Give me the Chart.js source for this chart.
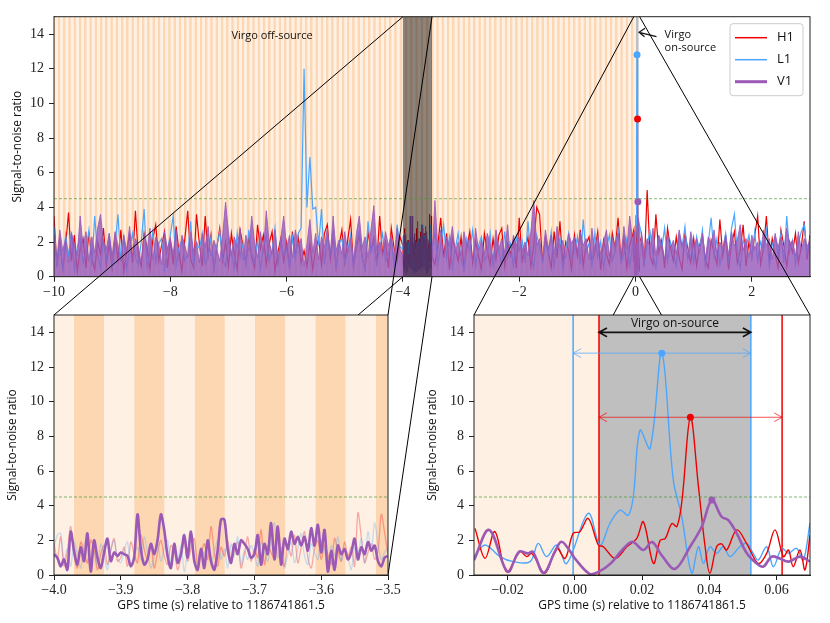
<!DOCTYPE html>
<html>
<head>
<meta charset="utf-8">
<title>Virgo on-source / off-source SNR</title>
<script src="https://cdn.jsdelivr.net/npm/chart.js@4.4.0/dist/chart.umd.min.js"></script>
<style>
  html, body { margin: 0; padding: 0; background: #fff; }
  #figure { position: relative; width: 830px; height: 623px; }
  #figure canvas { position: absolute; left: 0; top: 0; width: 830px; height: 623px; }
</style>
</head>
<body>
<div id="figure">
  <canvas id="topChart" width="830" height="623"></canvas>
  <canvas id="leftChart" width="830" height="623"></canvas>
  <canvas id="rightChart" width="830" height="623"></canvas>
  <canvas id="connectors" width="830" height="623"></canvas>
</div>
<script>
// ---- data ----
const detectors = ['H1', 'L1', 'V1'];
const detColors = ['#ee0000', '#4ba6ff', '#9b59b6'];

// full 13 s trace, one sample every 0.05 s starting at -10 s
const topStart = -10;
const topStep = 0.05;
const h1Coarse = [
  3.5, 0.6, 2.1, 0.4, 1.8, 3.7, 0.9, 2.4, 0.3, 1.6, 2.2, 0.5, 2.6, 1.1, 0.4, 2.0, 1.3, 2.8, 0.7, 1.9,
  0.5, 2.3, 1.0, 2.7, 0.3, 1.5, 2.4, 0.8, 3.8, 1.2, 0.6, 2.5, 1.7, 0.4, 2.2, 3.0, 0.9, 1.8, 2.6, 0.5,
  2.1, 0.7, 2.9, 1.4, 0.3, 2.2, 3.8, 1.0, 0.5, 3.6, 1.9, 0.6, 3.5, 1.2, 2.4, 0.4, 1.7, 2.8, 0.9, 2.0,
  0.6, 2.5, 1.3, 0.4, 2.7, 1.8, 0.8, 2.3, 1.1, 0.5, 3.0, 1.6, 2.4, 0.7, 1.9, 2.6, 0.3, 1.4, 2.2, 0.9,
  2.0, 0.5, 2.6, 1.2, 2.3, 0.8, 1.5, 0.6, 1.9, 0.4, 1.6, 2.2, 0.7, 2.5, 3.0, 1.0, 2.4, 0.5, 1.8, 2.7,
  0.8, 2.1, 3.3, 0.6, 1.7, 2.4, 1.1, 0.4, 2.6, 1.5, 2.2, 0.7, 3.5, 1.3, 2.0, 0.5, 2.8, 1.6, 0.9, 2.3,
  1.9, 0.6, 2.4, 1.2, 0.5, 2.1, 1.4, 0.8, 2.6, 1.0, 3.4, 0.7, 1.8, 3.4, 1.1, 2.5, 0.4, 2.2, 1.6, 0.9,
  2.3, 0.5, 1.7, 2.6, 0.8, 2.0, 1.2, 0.4, 2.5, 1.5, 0.7, 2.2, 1.0, 2.4, 2.8, 0.6, 1.9, 1.3, 2.1, 0.5,
  3.4, 0.9, 1.6, 2.3, 0.6, 1.8, 4.0, 3.6, 0.8, 2.2, 1.4, 0.5, 2.6, 1.1, 3.2, 0.7, 2.0, 1.5, 0.4, 2.4,
  1.2, 2.7, 0.6, 1.9, 2.3, 0.8, 1.5, 2.6, 0.4, 2.1, 1.3, 0.7, 2.5, 1.6, 3.4, 0.9, 2.2, 0.5, 1.8, 2.4,
  1.0, 1.5, 2.0, 0.6, 5.0, 1.2, 0.7, 3.6, 1.4, 2.1, 0.5, 2.8, 1.7, 0.9, 2.3, 1.1, 0.4, 2.5, 1.6, 0.8,
  2.2, 0.6, 1.8, 2.4, 1.0, 0.5, 2.1, 1.4, 0.7, 3.3, 1.2, 2.3, 0.4, 1.9, 2.6, 0.8, 1.5, 3.0, 0.6, 2.0,
  1.1, 2.4, 3.5, 0.7, 1.6, 3.5, 0.9, 2.2, 1.3, 0.5, 2.7, 1.8, 0.6, 2.0, 1.4, 2.5, 0.8, 1.7, 3.2, 1.0,
  2.4
];
const l1Coarse = [
  2.9, 0.7, 1.9, 0.5, 2.4, 1.2, 2.6, 0.4, 1.7, 2.2, 0.8, 1.5, 2.7, 0.6, 3.5, 1.3, 0.5, 2.1, 1.0, 2.5,
  0.6, 1.8, 3.6, 0.9, 2.3, 0.4, 1.6, 2.5, 1.1, 0.7, 2.0, 3.9, 0.5, 1.4, 2.6, 0.8, 1.9, 2.2, 0.4, 1.5,
  2.4, 3.5, 0.6, 1.7, 2.1, 0.9, 1.3, 3.2, 0.5, 2.0, 1.6, 2.5, 0.7, 1.2, 2.3, 0.4, 1.8, 2.6, 1.0, 0.6,
  2.2, 1.4, 0.5, 2.5, 1.1, 1.9, 0.6, 2.7, 1.3, 0.8, 2.1, 0.4, 1.7, 2.4, 0.9, 1.5, 2.8, 0.6, 2.0, 1.2,
  1.6, 0.5, 2.3, 1.0, 2.5, 2.8, 12.0, 4.0, 6.9, 3.9, 4.0, 1.8, 3.9, 0.7, 2.4, 1.3, 2.6, 0.5, 1.9, 2.2,
  0.8, 1.5, 2.4, 0.6, 1.9, 2.6, 1.1, 0.4, 3.2, 1.4, 2.0, 0.7, 1.6, 2.5, 0.9, 1.3, 2.2, 0.5, 3.0, 1.7,
  0.9, 2.1, 1.3, 0.6, 2.4, 1.7, 0.5, 1.9, 2.2, 0.8, 1.4, 2.6, 0.7, 1.8, 3.0, 1.1, 2.3, 0.5, 1.6, 2.5,
  1.0, 0.4, 2.2, 1.5, 2.7, 0.6, 1.8, 2.3, 0.9, 1.2, 2.5, 0.5, 2.0, 1.4, 0.7, 2.6, 1.1, 1.9, 0.6, 2.3,
  1.5, 2.1, 0.8, 3.2, 1.2, 0.5, 2.4, 1.7, 0.9, 2.0, 1.3, 2.6, 0.6, 1.8, 2.2, 0.4, 1.6, 2.5, 1.0, 1.4,
  2.3, 0.7, 3.3, 1.4, 1.9, 0.6, 2.5, 1.1, 2.0, 0.5, 1.7, 2.4, 0.9, 1.5, 2.7, 0.8, 1.3, 2.2, 0.6, 1.8,
  1.2, 1.8, 2.5, 0.7, 1.9, 2.6, 1.3, 0.5, 2.2, 1.6, 2.8, 0.9, 2.0, 1.4, 0.6, 2.4, 1.7, 2.9, 1.0, 2.1,
  0.8, 2.3, 1.5, 2.7, 0.6, 1.9, 3.4, 1.2, 2.2, 0.7, 1.6, 2.5, 1.0, 2.8, 3.6, 1.4, 0.5, 2.1, 1.7, 2.4,
  1.1, 2.6, 0.9, 2.0, 1.5, 2.7, 0.6, 1.8, 2.3, 1.2, 2.5, 0.8, 3.5, 1.4, 2.1, 0.7, 1.9, 2.6, 3.0, 1.3,
  2.2
];
const v1Coarse = [
  2.4, 1.0, 2.7, 1.5, 2.2, 0.8, 2.5, 1.9, 1.2, 3.5, 1.7, 2.6, 0.9, 2.3, 1.4, 2.8, 3.6, 2.0, 1.6, 2.5,
  1.2, 2.6, 1.8, 0.9, 2.4, 1.5, 2.9, 1.1, 2.2, 1.7, 0.8, 2.5, 1.4, 2.8, 1.0, 2.3, 1.9, 0.7, 2.6, 1.6,
  2.2, 1.3, 2.7, 0.9, 2.4, 1.8, 1.1, 2.6, 1.5, 2.0, 0.8, 2.5, 1.7, 2.9, 1.2, 2.1, 1.6, 0.9, 2.4, 4.3,
  2.6, 1.2, 2.3, 1.7, 2.8, 1.0, 2.4, 1.5, 3.5, 1.9, 1.1, 2.6, 1.4, 3.8, 2.0, 1.3, 2.7, 0.9, 2.2, 3.5,
  1.6, 2.4, 1.1, 2.7, 1.8, 2.2, 0.6, 1.9, 3.3, 1.4, 2.5, 1.0, 2.3, 1.7, 2.8, 1.2, 3.5, 1.5, 2.1, 1.3,
  2.6, 1.4, 2.2, 0.9, 2.5, 3.5, 1.7, 2.3, 1.1, 2.7, 4.1, 1.5, 2.0, 1.3, 2.6, 1.8, 2.4, 1.0, 2.8, 1.6,
  2.1, 1.3, 2.5, 1.0, 2.2, 1.7, 2.6, 1.2, 2.0, 1.5, 2.4, 4.4, 1.6, 2.7, 1.1, 2.3, 1.8, 2.9, 1.4, 2.0,
  1.2, 2.6, 1.7, 2.3, 0.9, 2.8, 1.5, 2.1, 1.3, 2.5, 1.9, 1.0, 2.7, 1.6, 2.2, 1.4, 3.0, 1.1, 2.4, 1.8,
  2.3, 1.5, 2.0, 1.2, 2.6, 4.4, 1.8, 2.2, 1.0, 2.7, 1.6, 2.4, 1.3, 2.9, 1.7, 2.1, 1.1, 2.5, 1.9, 2.3,
  1.4, 2.6, 1.8, 2.2, 1.0, 2.8, 1.5, 2.4, 1.3, 2.0, 2.7, 1.2, 2.3, 1.7, 2.5, 1.1, 2.9, 1.6, 3.5, 2.0,
  1.5, 2.3, 2.6, 1.4, 2.2, 1.7, 2.8, 1.2, 2.4, 1.9, 1.0, 2.5, 1.6, 2.1, 1.3, 2.7, 1.8, 2.3, 1.1, 2.6,
  1.7, 2.2, 1.4, 2.5, 1.0, 2.3, 1.9, 2.7, 1.3, 2.0, 1.6, 2.4, 1.2, 2.6, 1.8, 2.1, 3.0, 1.5, 2.2, 1.1,
  2.4, 1.6, 2.0, 1.3, 2.7, 1.8, 2.2, 1.0, 2.5, 1.7, 2.3, 1.4, 2.8, 1.9, 2.1, 1.2, 2.6, 1.5, 2.2, 1.8,
  2.0
];

// off-source zoom (-4.0 .. -3.5 s), one sample every 0.005 s
const leftStart = -4.0;
const leftStep = 0.005;
const h1Left = [
  1.8, 0.9, 2.2, 0.5, 1.4, 2.8, 1.1, 0.4, 1.9, 1.3, 0.7, 2.0, 1.5, 0.3, 1.2, 1.7, 0.6, 1.4, 2.1, 0.8,
  1.0, 1.6, 0.5, 1.9, 1.2, 0.7, 2.3, 1.5, 0.9, 1.8, 0.4, 1.3, 2.0, 1.1, 0.6, 1.7, 1.4, 0.3, 1.0, 1.9,
  0.8, 1.5, 2.1, 0.6, 1.2, 1.8, 0.9, 2.8, 1.3, 0.5, 1.6, 1.1, 2.0, 0.7, 1.4, 1.9, 0.4, 1.2, 2.2, 0.8,
  1.5, 1.0, 2.6, 0.6, 1.7, 1.3, 0.9, 2.1, 1.4, 0.5, 1.8, 1.1, 2.3, 0.7, 1.6, 2.5, 1.0, 0.4, 1.5, 2.0,
  0.9, 1.7, 1.2, 0.6, 2.1, 1.4, 0.8, 1.9, 1.1, 1.6, 0.5, 3.6, 2.2, 0.7, 1.3, 1.8, 0.9, 1.4, 3.5, 2.4,
  1.2
];
const l1Left = [
  1.6, 2.3, 2.4, 0.8, 1.5, 0.5, 1.9, 1.2, 0.4, 1.7, 2.1, 0.9, 1.3, 0.6, 1.8, 1.1, 0.3, 1.5, 2.0, 1.0,
  0.7, 1.4, 1.9, 0.5, 1.2, 1.6, 0.9, 2.2, 1.3, 0.4, 1.1, 1.8, 0.8, 1.5, 2.0, 0.6, 1.3, 0.9, 1.7, 0.2,
  1.4, 2.1, 1.0, 0.5, 1.6, 1.2, 1.9, 0.7, 1.3, 2.0, 0.9, 1.5, 0.4, 1.8, 1.1, 2.2, 0.6, 1.4, 0.9, 1.7,
  1.2, 0.5, 1.9, 1.3, 0.8, 2.1, 3.0, 1.0, 1.6, 0.4, 1.2, 1.9, 0.7, 1.5, 2.4, 1.1, 0.6, 1.8, 1.3, 0.9,
  2.0, 1.4, 0.5, 1.7, 1.1, 2.2, 0.8, 1.5, 1.0, 0.3, 1.6, 1.2, 2.1, 0.7, 2.5, 1.4, 3.0, 1.8, 0.9, 1.3,
  1.6
];
const v1Left = [
  1.2, 1.0, 0.5, 0.9, 0.3, 2.5, 1.4, 0.6, 1.6, 0.8, 2.4, 0.2, 2.0, 1.0, 0.4, 1.3, 2.1, 0.8, 1.3, 1.1,
  1.3, 1.2, 1.1, 0.5, 1.0, 3.5, 1.5, 0.6, 0.9, 1.8, 1.2, 2.0, 3.5, 2.6, 1.1, 0.4, 1.8, 0.7, 1.2, 2.3,
  1.0, 2.5, 0.8, 0.3, 1.5, 0.4, 2.0, 0.8, 0.3, 1.4, 3.2, 3.2, 1.5, 0.7, 1.8, 1.2, 2.0, 1.8, 1.5, 1.0,
  1.2, 2.3, 0.6, 1.8, 1.2, 3.0, 0.9, 2.8, 0.6, 2.1, 1.5, 2.5, 1.8, 2.2, 1.7, 2.2, 1.4, 2.7, 1.7, 2.9,
  1.3, 2.6, 0.2, 1.4, 0.3, 1.7, 1.2, 1.5, 0.9, 1.3, 2.1, 0.9, 1.6, 1.2, 1.9, 1.4, 1.7, 0.8, 0.5, 1.0,
  1.1
];

// on-source zoom (-0.03 .. 0.07 s)
const h1ZoomT = [-0.0297, -0.0267, -0.0238, -0.0203, -0.0163, -0.0143, -0.0128, -0.0089, -0.0054, -0.0029,
  -0.0005, 0.0015, 0.0040, 0.0070, 0.0085, 0.0120, 0.0155, 0.0184, 0.0204, 0.0234, 0.0254, 0.0269, 0.0289,
  0.0304, 0.0319, 0.0344, 0.0368, 0.0388, 0.0402, 0.0422, 0.0437, 0.0452, 0.0482, 0.0512, 0.0546, 0.0571,
  0.0596, 0.0621, 0.0636, 0.0650, 0.0670, 0.0685, 0.0700];
const h1ZoomSnr = [2.69, 0.96, 2.5, 0.19, 1.34, 1.06, 1.25, 0.1, 1.54, 0.96,
  2.4, 2.5, 3.26, 1.73, 1.63, 0.96, 1.63, 2.1, 3.07, 0.67, 2.0, 2.1, 2.97,
  2.8, 4.3, 9.1, 5.1, 1.6, 0.1, 1.63, 1.8, 1.44, 2.6, 1.8, 0.67, 1.25,
  2.6, 1.06, 1.44, 0.48, 1.44, 0.29, 2.3];
const l1ZoomT = [-0.0300, -0.0267, -0.0223, -0.0183, -0.0133, -0.0109, -0.0084, -0.0054, -0.0024, 0.0040,
  0.0075, 0.0105, 0.0135, 0.0159, 0.0174, 0.0194, 0.0224, 0.0259, 0.0293, 0.0318, 0.0348, 0.0368, 0.0383,
  0.0402, 0.0422, 0.0442, 0.0462, 0.0491, 0.0511, 0.0531, 0.0546, 0.0571, 0.0591, 0.0616, 0.0636, 0.0660,
  0.0680, 0.0700];
const l1ZoomSnr = [1.06, 1.73, 1.06, 0.77, 0.77, 1.82, 1.06, 1.73, 0.67, 3.55,
  1.73, 3.0, 3.74, 3.45, 4.5, 8.35, 7.3, 12.8, 5.5, 3.4, 0.1, 1.63, 0.67,
  1.63, 1.25, 1.63, 1.06, 1.63, 1.82, 1.25, 0.86, 1.63, 0.48, 1.54, 1.25, 1.54,
  0.86, 3.0];
const v1ZoomT = [-0.0300, -0.0255, -0.0200, -0.0166, -0.0140, -0.0125, -0.0093, -0.0060, -0.0040, -0.0015,
  0.0000, 0.0045, 0.0072, 0.0107, 0.0141, 0.0171, 0.0204, 0.0230, 0.0260, 0.0298, 0.0343, 0.0378, 0.0408,
  0.0437, 0.0457, 0.0482, 0.0512, 0.0541, 0.0561, 0.0586, 0.0610, 0.0636, 0.0670, 0.0700];
const v1ZoomSnr = [0.86, 2.6, 0.19, 1.34, 1.25, 1.34, 0.12, 1.3, 1.92, 1.4,
  0.96, 0.05, 0.19, 0.67, 1.44, 1.92, 1.44, 1.9, 1.1, 0.35, 1.63, 2.8, 4.32,
  3.36, 3.17, 2.4, 1.25, 0.67, 0.48, 1.06, 0.95, 0.77, 1.06, 0.77];

// loudest peak per detector (H1, L1, V1)
const peakT = [0.0344, 0.0259, 0.0408];
const peakSnr = [9.1, 12.8, 4.32];

// windows (s)
const leftZoom = [-4.0, -3.5];
const rightZoom = [-0.03, 0.07];
const h1Window = [0.0072, 0.0617];
const l1Window = [-0.0005, 0.0524];
const virgoOnSource = [0.0072, 0.0524];
const threshold = 4.5;

// ticks
const topXTicks = [-10, -8, -6, -4, -2, 0, 2];
const leftXTicks = [-4.0, -3.9, -3.8, -3.7, -3.6, -3.5];
const rightXTicks = [-0.02, 0.0, 0.02, 0.04, 0.06];
const snrTicks = [0, 2, 4, 6, 8, 10, 12, 14];

// ---- styling ----
const serif = { family: 'Liberation Serif', size: 14 };
const sans = "'Open Sans', 'DejaVu Sans', sans-serif";
const axisColor = '#222';
const bandDark = '#fdd6b2';
const bandLight = '#fef0e3';
const onSourceGray = '#bfbfbf';
const xLabel = 'GPS time (s) relative to 1186741861.5';

function fmt(v, digits) {
  const s = Math.abs(v).toFixed(digits);
  return (v < -1e-9 ? '\u2212' : '') + s;
}

function toPoints(ts, vs) {
  return ts.map((t, i) => ({ x: t, y: vs[i] }));
}

function evenPoints(start, step, vs) {
  return vs.map((v, i) => ({ x: start + i * step, y: v }));
}

// top panel shows the coarse trace with the two zoomed stretches spliced in
function mergeTrace(coarse, left, zoomT, zoomSnr) {
  const inside = (t, r) => t >= r[0] - 1e-9 && t <= r[1] + 1e-9;
  const pts = evenPoints(topStart, topStep, coarse)
    .filter(p => !inside(p.x, leftZoom) && !inside(p.x, rightZoom));
  return pts.concat(evenPoints(leftStart, leftStep, left), toPoints(zoomT, zoomSnr))
    .sort((a, b) => a.x - b.x);
}

function yAxis(titlePad) {
  return {
    min: 0,
    max: 15,
    afterBuildTicks: s => { s.ticks = snrTicks.map(v => ({ value: v })); },
    afterFit: s => { s.width = 54; },
    border: { display: true, color: axisColor, width: 1 },
    grid: { drawOnChartArea: false, drawTicks: true, tickLength: 5, color: axisColor },
    ticks: { color: axisColor, font: serif, padding: 5, callback: v => fmt(v, 0) },
    title: {
      display: true, text: 'Signal-to-noise ratio', color: '#111',
      font: { family: sans, size: 12 }, padding: { top: titlePad, bottom: 0 }
    }
  };
}

function xAxis(min, max, ticks, digits, height, withTitle) {
  return {
    type: 'linear',
    min: min,
    max: max,
    afterBuildTicks: s => { s.ticks = ticks.map(v => ({ value: v })); },
    afterFit: s => { s.height = height; },
    border: { display: true, color: axisColor, width: 1 },
    grid: { drawOnChartArea: false, drawTicks: true, tickLength: 5, color: axisColor },
    ticks: { color: axisColor, font: serif, padding: 2, autoSkip: false, maxRotation: 0, callback: v => fmt(v, digits) },
    title: {
      display: withTitle, text: xLabel, color: '#111',
      font: { family: sans, size: 12 }, padding: { top: 0, bottom: 10 }
    }
  };
}

function clipArea(chart) {
  const a = chart.chartArea;
  chart.ctx.beginPath();
  chart.ctx.rect(a.left, a.top, a.right - a.left, a.bottom - a.top);
  chart.ctx.clip();
}

function fillSpan(chart, t0, t1, color) {
  const { ctx, chartArea: a, scales: { x } } = chart;
  const p0 = x.getPixelForValue(Math.max(t0, x.min));
  const p1 = x.getPixelForValue(Math.min(t1, x.max));
  if (p1 <= p0) return;
  ctx.fillStyle = color;
  ctx.fillRect(p0, a.top, p1 - p0, a.bottom - a.top);
}

// off-source windows: same length as the on-source window, tiled backwards in time
function drawOffSource(chart) {
  const w = virgoOnSource[1] - virgoOnSource[0];
  const x = chart.scales.x;
  chart.ctx.save();
  clipArea(chart);
  for (let k = 1; ; k++) {
    const t1 = virgoOnSource[0] - (k - 1) * w;
    const t0 = t1 - w;
    if (t1 < x.min) break;
    if (t0 > x.max) continue;
    fillSpan(chart, t0, t1, k % 2 ? bandLight : bandDark);
  }
  chart.ctx.restore();
}

function drawThreshold(chart) {
  const { ctx, chartArea: a, scales: { y } } = chart;
  const py = y.getPixelForValue(threshold);
  ctx.save();
  ctx.strokeStyle = 'rgba(70,150,50,0.75)';
  ctx.lineWidth = 0.9;
  ctx.setLineDash([3, 2]);
  ctx.beginPath();
  ctx.moveTo(a.left, py);
  ctx.lineTo(a.right, py);
  ctx.stroke();
  ctx.restore();
}

function drawFrame(chart) {
  const { ctx, chartArea: a } = chart;
  ctx.save();
  ctx.strokeStyle = axisColor;
  ctx.lineWidth = 1;
  ctx.strokeRect(a.left, a.top, a.right - a.left, a.bottom - a.top);
  ctx.restore();
}

function vLine(chart, t, color, width) {
  const { ctx, chartArea: a, scales: { x } } = chart;
  const px = x.getPixelForValue(t);
  ctx.save();
  ctx.strokeStyle = color;
  ctx.lineWidth = width;
  ctx.beginPath();
  ctx.moveTo(px, a.top);
  ctx.lineTo(px, a.bottom);
  ctx.stroke();
  ctx.restore();
}

// double headed arrow with open heads, like matplotlib '<->'
function hArrow(chart, t0, t1, snr, color, width, head) {
  const { ctx, scales: { x, y } } = chart;
  const x0 = x.getPixelForValue(t0), x1 = x.getPixelForValue(t1), py = y.getPixelForValue(snr);
  ctx.save();
  ctx.strokeStyle = color;
  ctx.lineWidth = width;
  ctx.beginPath();
  ctx.moveTo(x0, py); ctx.lineTo(x1, py);
  ctx.moveTo(x0 + head, py - head * 0.55); ctx.lineTo(x0, py); ctx.lineTo(x0 + head, py + head * 0.55);
  ctx.moveTo(x1 - head, py - head * 0.55); ctx.lineTo(x1, py); ctx.lineTo(x1 - head, py + head * 0.55);
  ctx.stroke();
  ctx.restore();
}

function peakDataset() {
  return {
    data: toPoints(peakT, peakSnr),
    showLine: false,
    pointRadius: 3.5,
    pointBackgroundColor: detColors,
    pointBorderWidth: 0
  };
}

const baseOptions = {
  responsive: false,
  animation: false,
  events: [],
  plugins: { legend: { display: false }, tooltip: { enabled: false } }
};

// ---- top panel ----
const topPlugin = {
  id: 'topDecor',
  beforeDatasetsDraw(chart) {
    drawOffSource(chart);
    chart.ctx.save();
    clipArea(chart);
    fillSpan(chart, virgoOnSource[0], virgoOnSource[1], onSourceGray);
    chart.ctx.restore();
  },
  afterDatasetsDraw(chart) {
    const { ctx, scales: { x, y } } = chart;
    // region shown in the lower left panel
    fillSpan(chart, leftZoom[0], leftZoom[1], 'rgba(0,0,0,0.45)');
    drawThreshold(chart);
    ctx.save();
    ctx.fillStyle = '#111';
    ctx.font = '11px ' + sans;
    ctx.textBaseline = 'middle';
    ctx.textAlign = 'center';
    ctx.fillText('Virgo off-source', x.getPixelForValue(-6.25), y.getPixelForValue(13.9));
    ctx.textAlign = 'left';
    const tx = x.getPixelForValue(0.5), ty = y.getPixelForValue(13.95);
    ctx.fillText('Virgo', tx, ty);
    ctx.fillText('on-source', tx, ty + 13);
    // arrow to the on-source window
    const hx = x.getPixelForValue(0.06), hy = y.getPixelForValue(14.1);
    const bx = x.getPixelForValue(0.36), by = y.getPixelForValue(13.85);
    ctx.strokeStyle = '#111';
    ctx.lineWidth = 1.2;
    ctx.beginPath();
    ctx.moveTo(bx, by); ctx.lineTo(hx, hy);
    ctx.moveTo(hx + 6, hy - 4); ctx.lineTo(hx, hy); ctx.lineTo(hx + 5.5, hy + 4.5);
    ctx.stroke();
    ctx.restore();
  },
  afterDraw(chart) {
    drawFrame(chart);
    const { ctx, chartArea: a } = chart;
    const bx = a.right - 80, by = a.top + 7, bw = 73, bh = 72;
    ctx.save();
    ctx.fillStyle = 'rgba(255,255,255,0.85)';
    ctx.strokeStyle = '#cccccc';
    ctx.lineWidth = 1;
    ctx.beginPath();
    ctx.roundRect(bx, by, bw, bh, 3);
    ctx.fill();
    ctx.stroke();
    ctx.font = '13px ' + sans;
    ctx.textBaseline = 'middle';
    ctx.fillStyle = '#111';
    detectors.forEach((d, i) => {
      const ly = by + 14 + i * 22;
      ctx.strokeStyle = detColors[i];
      ctx.lineWidth = i === 2 ? 3 : 1.5;
      ctx.beginPath();
      ctx.moveTo(bx + 5, ly);
      ctx.lineTo(bx + 37, ly);
      ctx.stroke();
      ctx.fillText(d, bx + 47, ly);
    });
    ctx.restore();
  }
};

const topChart = new Chart(document.getElementById('topChart'), {
  type: 'line',
  data: {
    datasets: [
      peakDataset(),
      {
        data: mergeTrace(v1Coarse, v1Left, v1ZoomT, v1ZoomSnr),
        borderColor: 'rgba(155,89,182,0.85)', borderWidth: 1,
        fill: 'origin', backgroundColor: 'rgba(150,92,188,0.82)', pointRadius: 0, tension: 0
      },
      {
        data: mergeTrace(l1Coarse, l1Left, l1ZoomT, l1ZoomSnr),
        borderColor: detColors[1], borderWidth: 1.2, pointRadius: 0, tension: 0
      },
      {
        data: mergeTrace(h1Coarse, h1Left, h1ZoomT, h1ZoomSnr),
        borderColor: detColors[0], borderWidth: 1.2, pointRadius: 0, tension: 0
      }
    ]
  },
  options: Object.assign({}, baseOptions, {
    layout: { padding: { left: 0, top: 16.7, right: 20, bottom: 316.3 } },
    scales: { x: xAxis(-10, 3, topXTicks, 0, 30, false), y: yAxis(10) }
  }),
  plugins: [topPlugin]
});

// ---- lower left: off-source zoom ----
const leftChart = new Chart(document.getElementById('leftChart'), {
  type: 'line',
  data: {
    datasets: [
      { data: evenPoints(leftStart, leftStep, v1Left), borderColor: detColors[2], borderWidth: 2.6, pointRadius: 0, tension: 0.3 },
      { data: evenPoints(leftStart, leftStep, l1Left), borderColor: 'rgba(75,166,255,0.3)', borderWidth: 1.3, pointRadius: 0, tension: 0.3 },
      { data: evenPoints(leftStart, leftStep, h1Left), borderColor: 'rgba(238,0,0,0.3)', borderWidth: 1.3, pointRadius: 0, tension: 0.3 }
    ]
  },
  options: Object.assign({}, baseOptions, {
    layout: { padding: { left: 0, top: 315, right: 442, bottom: 0 } },
    scales: { x: xAxis(-4.0, -3.5, leftXTicks, 1, 48, true), y: yAxis(5.5) }
  }),
  plugins: [{
    id: 'leftDecor',
    beforeDatasetsDraw(chart) { drawOffSource(chart); },
    afterDatasetsDraw(chart) { drawThreshold(chart); },
    afterDraw(chart) { drawFrame(chart); }
  }]
});

// ---- lower right: on-source zoom ----
const rightChart = new Chart(document.getElementById('rightChart'), {
  type: 'line',
  data: {
    datasets: [
      peakDataset(),
      { data: toPoints(v1ZoomT, v1ZoomSnr), borderColor: detColors[2], borderWidth: 2.6, pointRadius: 0, tension: 0.35 },
      { data: toPoints(h1ZoomT, h1ZoomSnr), borderColor: detColors[0], borderWidth: 1.4, pointRadius: 0, tension: 0.35 },
      { data: toPoints(l1ZoomT, l1ZoomSnr), borderColor: detColors[1], borderWidth: 1.4, pointRadius: 0, tension: 0.35 }
    ]
  },
  options: Object.assign({}, baseOptions, {
    layout: { padding: { left: 420, top: 315, right: 20, bottom: 0 } },
    scales: { x: xAxis(-0.03, 0.07, rightXTicks, 2, 48, true), y: yAxis(5.5) }
  }),
  plugins: [{
    id: 'rightDecor',
    beforeDatasetsDraw(chart) {
      chart.ctx.save();
      clipArea(chart);
      drawOffSource(chart);
      fillSpan(chart, virgoOnSource[0], virgoOnSource[1], onSourceGray);
      vLine(chart, l1Window[0], detColors[1], 1.5);
      vLine(chart, l1Window[1], detColors[1], 1.5);
      vLine(chart, h1Window[0], detColors[0], 1.5);
      vLine(chart, h1Window[1], detColors[0], 1.5);
      chart.ctx.restore();
    },
    afterDatasetsDraw(chart) {
      drawThreshold(chart);
      hArrow(chart, l1Window[0], l1Window[1], peakSnr[1], 'rgba(75,166,255,0.8)', 0.9, 8);
      hArrow(chart, h1Window[0], h1Window[1], peakSnr[0], 'rgba(238,0,0,0.75)', 0.9, 8);
      hArrow(chart, virgoOnSource[0], virgoOnSource[1], 14.0, '#111', 1.6, 8);
      const { ctx, scales: { x, y } } = chart;
      ctx.save();
      ctx.fillStyle = '#111';
      ctx.font = '12px ' + sans;
      ctx.textAlign = 'center';
      ctx.textBaseline = 'middle';
      ctx.fillText('Virgo on-source', x.getPixelForValue((virgoOnSource[0] + virgoOnSource[1]) / 2), y.getPixelForValue(14.5));
      ctx.restore();
    },
    afterDraw(chart) { drawFrame(chart); }
  }]
});

// ---- zoom connector lines (hidden behind the lower plot areas) ----
function drawConnectors() {
  const canvas = document.getElementById('connectors');
  const ctx = canvas.getContext('2d');
  const tx = topChart.scales.x, ty = topChart.scales.y;
  const zooms = [[leftChart, leftZoom], [rightChart, rightZoom]];
  ctx.save();
  ctx.beginPath();
  ctx.rect(0, 0, canvas.width, canvas.height);
  zooms.forEach(([c]) => {
    const a = c.chartArea;
    ctx.rect(a.left, a.top, a.right - a.left, a.bottom - a.top);
  });
  ctx.clip('evenodd');
  ctx.strokeStyle = '#000';
  ctx.lineWidth = 1;
  const yTop = ty.getPixelForValue(ty.max), yBot = ty.getPixelForValue(ty.min);
  zooms.forEach(([c, range]) => {
    const a = c.chartArea;
    const x0 = tx.getPixelForValue(range[0]), x1 = tx.getPixelForValue(range[1]);
    [[x0, yTop, a.left, a.top], [x0, yBot, a.left, a.bottom],
     [x1, yTop, a.right, a.top], [x1, yBot, a.right, a.bottom]].forEach(s => {
      ctx.beginPath();
      ctx.moveTo(s[0], s[1]);
      ctx.lineTo(s[2], s[3]);
      ctx.stroke();
    });
  });
  ctx.restore();
}

drawConnectors();
</script>
</body>
</html>
